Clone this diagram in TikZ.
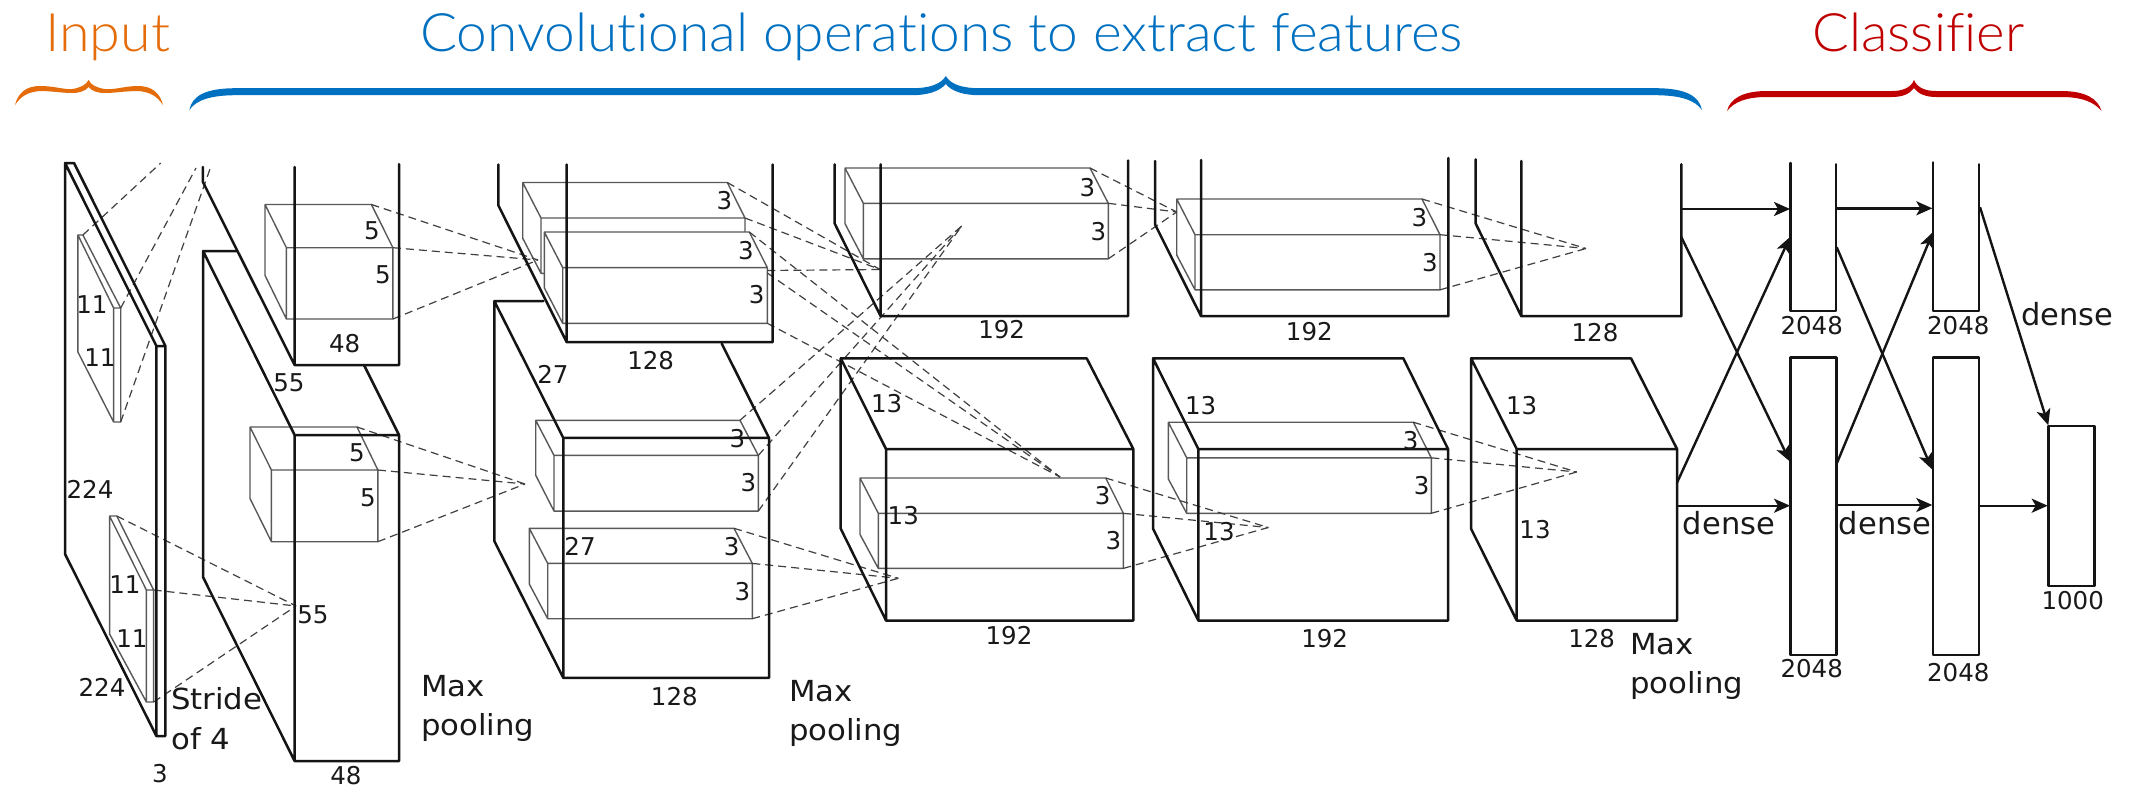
\documentclass[tikz,border=0pt]{standalone}
\usepackage{fontspec}
\setmainfont{DejaVu Sans}
\newfontfamily\headfont[UprightFont=* Light,Ligatures=NoCommon]{Lato}
\usetikzlibrary{arrows.meta}
\definecolor{headorange}{HTML}{E46C0A}
\definecolor{headblue}{HTML}{0070C0}
\definecolor{headred}{HTML}{C00000}
\tikzset{
  layerline/.style={line width=2.5pt,black!92,line cap=round,line join=round},
  thinbox/.style={line width=1.4pt,black!65,line join=round},
  dashline/.style={line width=1.2pt,black!75,dash pattern=on 8pt off 5pt},
  flowarrow/.style={line width=2.4pt,black!92,-{Stealth[length=16pt,width=14pt,inset=4pt]}},
  numtext/.style={inner sep=0pt,font=\fontsize{24.5}{28}\selectfont,text=black!90},
  captext/.style={inner sep=0pt,anchor=north west,align=left,font=\fontsize{29}{39.5}\selectfont,text=black!90,xscale=1.06,transform shape},
  densetext/.style={inner sep=0pt,font=\fontsize{30.5}{36}\selectfont,text=black!90},
  headtext/.style={inner sep=0pt,anchor=base west,font=\headfont\fontsize{53}{60}\selectfont,transform shape},
}
% name, a(back left), b(back right), c(front left), d(front right), ytop, yfront, ybackbottom, ybottom
\newcommand{\innerbox}[9]{%
  \draw[thinbox] (#2,#6) -- (#3,#6) -- (#5,#7) -- (#5,#9) -- (#4,#9) -- (#2,#8) -- cycle
    (#2,#6) -- (#4,#7) -- (#5,#7) (#4,#7) -- (#4,#9);
  \coordinate (#1-a) at (#3,#6);
  \coordinate (#1-b) at (#5,#7);
  \coordinate (#1-c) at (#5,#9);
}
\newcommand{\dashfan}[2]{%
  \draw[dashline] (#1-a) -- (#2);
  \draw[dashline] (#1-b) -- (#2);
  \draw[dashline] (#1-c) -- (#2);
}
\begin{document}
\begin{tikzpicture}[x=1pt,y=-1pt]
\path[use as bounding box,fill=white] (0,0) rectangle (2129,788);

% headings
\node[headtext,text=headorange,xscale=1.05] (hinput) at (45,51) {Input};
\node[headtext,text=headblue,xscale=1.038] (hconv) at (420,51) {Convolutional operations to extract features};
\node[headtext,text=headred,xscale=1.03] (hclass) at (1812,51) {Classifier};

% braces
\fill[headorange] (15,105) .. controls (18,93) and (26,86) .. (40,86) .. controls (55,86) and (65,90) .. (72,89) .. controls (80,88) and (86,85) .. (88.6,80)
  .. controls (91,85) and (97,88) .. (105,89) .. controls (115,90) and (125,86) .. (138,86) .. controls (152,86) and (160,93) .. (163,105)
  .. controls (157,96) and (150,92) .. (138,91) .. controls (125,91) and (115,93) .. (105,93) .. controls (97,93) and (92,91) .. (88.6,87)
  .. controls (85,91) and (80,93) .. (72,93) .. controls (62,93) and (52,91) .. (40,91) .. controls (28,92) and (21,96) .. (15,105) -- cycle;
\fill[headblue] (189.4,110) .. controls (192,96) and (205,88.2) .. (236,88.2) -- (912,88.2) .. controls (930,88.2) and (941,84) .. (945.8,76)
  .. controls (950.6,84) and (961,88.2) .. (980,88.2) -- (1655,88.2) .. controls (1686,88.2) and (1699,96) .. (1702,110)
  .. controls (1695,100) and (1680,95.2) .. (1655,95.2) -- (980,95.2) .. controls (965,95.2) and (952,92) .. (945.8,84)
  .. controls (939,92) and (926,95.2) .. (912,95.2) -- (236,95.2) .. controls (211,95.2) and (196,100) .. (189.4,110) -- cycle;
\fill[headred] (1727,111) .. controls (1730,99) and (1742,91) .. (1767,91) -- (1892,91) .. controls (1904,91) and (1911,87) .. (1914,80)
  .. controls (1917,87) and (1924,91) .. (1936,91) -- (2061,91) .. controls (2086,91) and (2098,99) .. (2101.5,111)
  .. controls (2094,102) and (2082,97) .. (2061,97) -- (1936,97) .. controls (1926,97) and (1918,94) .. (1914,88)
  .. controls (1910,94) and (1902,97) .. (1892,97) -- (1767,97) .. controls (1746,97) and (1734,102) .. (1727,111) -- cycle;

% inner boxes
\innerbox{ia}{77.9}{82.9}{113.6}{120.7}{235}{308}{352}{422}
\innerbox{ib}{109.6}{116.8}{146.4}{153.6}{516}{590}{634}{702}
\innerbox{ba}{265}{371.4}{286.4}{392.9}{204.5}{247.7}{275.4}{319}
\innerbox{bb}{250}{357}{271.4}{377.9}{427}{470}{498.5}{541.7}
\innerbox{ca}{522.7}{727.3}{541}{745}{182.5}{218}{238.2}{273.3}
\fill[white] (544.3,232) -- (749.3,232) -- (767.3,267.6) -- (767.3,323.3) -- (562.7,323.3) -- (544.3,287.8) -- cycle;
\innerbox{cb}{544.3}{749.3}{562.7}{767.3}{232}{267.6}{287.8}{323.3}
\innerbox{cc}{535.7}{740}{554}{758.3}{420.3}{455.4}{475.2}{511.1}
\innerbox{cd}{529.3}{734}{547.7}{752.3}{528.3}{563.4}{584}{618.7}
\innerbox{da}{845}{1090}{863.3}{1108.3}{168}{203.3}{223.6}{258.8}
\innerbox{db}{860}{1105.7}{878.3}{1123.3}{478}{513.3}{534.4}{568.4}
\innerbox{ea}{1176.7}{1422}{1195}{1440}{199}{234.7}{255}{289.8}
\innerbox{eb}{1168.3}{1413.3}{1186.7}{1431.3}{422.2}{457.8}{478.9}{513.3}

% convergence points of the dashed fans
\coordinate (t-ia1) at (160.7,163);
\coordinate (t-ia2) at (196,168);
\coordinate (t-ia3) at (210.7,167);
\coordinate (t-ib) at (296,606);
\coordinate (t-ba) at (538,260);
\coordinate (t-bb) at (525,484);
\coordinate (t-up) at (880,269.5);
\coordinate (t-down) at (1060,477);
\coordinate (t-cc) at (961.7,226);
\coordinate (t-cd) at (898.3,578.3);
\coordinate (t-da) at (1176.7,212);
\coordinate (t-db) at (1268.3,527.5);
\coordinate (t-ea) at (1586,248.5);
\coordinate (t-eb) at (1576.7,472);
\coordinate (s-ca3) at (767.3,270.5);
\coordinate (s-cb1) at (749.3,232);
\coordinate (s-cb2) at (767.3,273);

% dashed lines
\draw[dashline] (ia-a) -- (t-ia1);
\draw[dashline] (ia-b) -- (t-ia2);
\draw[dashline] (ia-c) -- (t-ia3);
\dashfan{ib}{t-ib}
\dashfan{ba}{t-ba}
\dashfan{bb}{t-bb}
\draw[dashline] (ca-a) -- (t-up);
\draw[dashline] (ca-b) -- (t-up);
\draw[dashline] (s-ca3) -- (t-up);
\draw[dashline] (s-cb1) -- (t-down);
\draw[dashline] (s-cb2) -- (t-down);
\draw[dashline] (cb-c) -- (t-down);
\dashfan{cc}{t-cc}
\dashfan{cd}{t-cd}
\dashfan{da}{t-da}
\dashfan{db}{t-db}
\dashfan{ea}{t-ea}
\dashfan{eb}{t-eb}

% input slab
\draw[layerline] (65,163) -- (65,554) -- (156.4,736) -- (165.4,736) -- (165.4,346) -- (74,163) -- cycle
  (65,163) -- (156.4,346) -- (165.4,346) (156.4,346) -- (156.4,736);

% layer 2
\draw[layerline] (202.9,167) -- (202.9,182) -- (294.6,365) -- (399,365) -- (399,164) (294.6,167) -- (294.6,365);
\draw[layerline] (237.5,251) -- (203,251) -- (203,577) -- (294.6,761) -- (399,761) -- (399,435) -- (364,365)
  (203,251) -- (294.6,435) -- (399,435) (294.6,435) -- (294.6,761);
% layer 3
\draw[layerline] (498.3,164.5) -- (498.3,205.3) -- (566.7,342.2) -- (772.7,342.2) -- (772.7,164.5) (566.7,164.5) -- (566.7,342.2);
\draw[layerline] (543.3,301) -- (494.3,301) -- (494.3,541) -- (563.3,677.9) -- (769,677.9) -- (769,437.9) -- (721.7,343.5)
  (494.3,301) -- (563.3,437.9) -- (769,437.9) (563.3,437.9) -- (563.3,677.9);
% layer 4
\draw[layerline] (834.7,164.3) -- (834.7,223.6) -- (880.7,316.2) -- (1128,316.2) -- (1128,160.5) (880.7,164.3) -- (880.7,316.2);
\draw[layerline] (1086.7,358.3) -- (840.7,358.3) -- (840.7,528.6) -- (886,620.5) -- (1133.3,620.5) -- (1133.3,449) -- (1086.7,358.3)
  (840.7,358.3) -- (886,449) -- (1133.3,449) (886,449) -- (886,620.5);
% layer 5
\draw[layerline] (1155,161) -- (1155,224.4) -- (1201,316.2) -- (1448.3,316.2) -- (1448.3,158) (1201,160) -- (1201,316.2);
\draw[layerline] (1403.3,358.3) -- (1153,358.3) -- (1153,528.6) -- (1198.3,620.5) -- (1448,620.5) -- (1448,449) -- (1403.3,358.3)
  (1153,358.3) -- (1198.3,449) -- (1448,449) (1198.3,449) -- (1198.3,620.5);
% layer 6
\draw[layerline] (1475.7,159.3) -- (1475.7,223.6) -- (1521.3,316.2) -- (1681.3,316.2) -- (1681.3,164.3) (1521.3,161) -- (1521.3,316.2);
\draw[layerline] (1631,358.3) -- (1471,358.3) -- (1471,528.6) -- (1516.7,620.5) -- (1677,620.5) -- (1677,449) -- (1631,358.3)
  (1471,358.3) -- (1516.7,449) -- (1677,449) (1516.7,449) -- (1516.7,620.5);
% dense columns
\draw[layerline] (1790.7,163) -- (1790.7,311.2) -- (1836,311.2) -- (1836,164.3);
\draw[layerline] (1790.7,357.6) rectangle (1836.7,655);
\draw[layerline] (1933,162.4) -- (1933,311.2) -- (1979,311.2) -- (1979,164.3);
\draw[layerline] (1933,357.6) rectangle (1979,655);
\draw[layerline] (2048.7,426) rectangle (2094.3,586);

% arrows
\coordinate (a1s) at (1681.3,209);   \coordinate (a1e) at (1790,209);
\coordinate (a2s) at (1681.3,237);   \coordinate (a2e) at (1790,461.6);
\coordinate (a3s) at (1677,482.7);   \coordinate (a3e) at (1790,237);
\coordinate (a4s) at (1677,505.7);   \coordinate (a4e) at (1790,505.7);
\coordinate (a5s) at (1836.7,208.3); \coordinate (a5e) at (1932.3,208.3);
\coordinate (a6s) at (1836.7,247.3); \coordinate (a6e) at (1932,469.3);
\coordinate (a7s) at (1836.7,463.6); \coordinate (a7e) at (1933,232);
\coordinate (a8s) at (1836.7,505);   \coordinate (a8e) at (1932.3,505);
\coordinate (a9s) at (1980,207.2);   \coordinate (a9e) at (2048.3,425.3);
\coordinate (a10s) at (1980,505.7);  \coordinate (a10e) at (2047.7,505.7);
\foreach \i in {1,...,10} {\draw[flowarrow] (a\i s) -- (a\i e);}

% labels
\node[numtext] (n11a) at (92,305) {11};
\node[numtext] (n11b) at (100,358) {11};
\node[numtext] (n224a) at (90,489) {224};
\node[numtext] (n11c) at (125,585) {11};
\node[numtext] (n11d) at (132,639) {11};
\node[numtext] (n224b) at (102,687) {224};
\node[numtext] (n3in) at (160,774) {3};
\node[numtext] (n48a) at (344.6,344) {48};
\node[numtext] (n55a) at (289,383) {55};
\node[numtext] (n5a) at (372,231) {5};
\node[numtext] (n5b) at (383,275) {5};
\node[numtext] (n5c) at (357,453) {5};
\node[numtext] (n5d) at (368,497.5) {5};
\node[numtext] (n55b) at (313,614.6) {55};
\node[numtext] (n48b) at (346,776) {48};
\node[numtext] (n3a) at (724.3,201) {3};
\node[numtext] (n3b) at (746,250.5) {3};
\node[numtext] (n3c) at (756.7,295) {3};
\node[numtext] (n128a) at (650.7,360.6) {128};
\node[numtext] (n27a) at (553,374) {27};
\node[numtext] (n3d) at (737.3,438.7) {3};
\node[numtext] (n3e) at (748.3,483) {3};
\node[numtext] (n27b) at (580,546.7) {27};
\node[numtext] (n3f) at (731.7,546.7) {3};
\node[numtext] (n3g) at (742.3,591.4) {3};
\node[numtext] (n128b) at (674.3,696.8) {128};
\node[numtext] (n3h) at (1087.3,187.3) {3};
\node[numtext] (n3i) at (1098.3,231.3) {3};
\node[numtext] (n192a) at (1001.7,329.6) {192};
\node[numtext] (n13a) at (886.7,404) {13};
\node[numtext] (n13b) at (903.3,516) {13};
\node[numtext] (n3j) at (1102.7,496) {3};
\node[numtext] (n3k) at (1113.3,540.9) {3};
\node[numtext] (n192b) at (1009,635.8) {192};
\node[numtext] (n3l) at (1419.3,217.9) {3};
\node[numtext] (n3m) at (1430,262.6) {3};
\node[numtext] (n192c) at (1309.3,331.5) {192};
\node[numtext] (n13c) at (1200.7,406) {13};
\node[numtext] (n3n) at (1410.7,440.6) {3};
\node[numtext] (n3o) at (1421.7,485.8) {3};
\node[numtext] (n13d) at (1219,531.7) {13};
\node[numtext] (n192d) at (1324.7,638.8) {192};
\node[numtext] (n128c) at (1595,332.3) {128};
\node[numtext] (n13e) at (1521.7,406) {13};
\node[numtext] (n13f) at (1535,529.8) {13};
\node[numtext] (n128d) at (1591.7,638.8) {128};
\node[numtext] (n2048a) at (1811.7,325.8) {2048};
\node[numtext] (n2048b) at (1958.3,325.8) {2048};
\node[numtext] (n2048c) at (1811.7,669) {2048};
\node[numtext] (n2048d) at (1958.3,672.9) {2048};
\node[numtext] (n1000) at (2072.7,600.2) {1000};
\node[densetext] (d1) at (1729,523.6) {dense};
\node[densetext] (d2) at (1885,523.6) {dense};
\node[densetext] (d3) at (2067.3,314.3) {dense};
\node[captext] (stride) at (171,687.5) {Stride\\of 4};
\node[captext] (mp1) at (421,675) {Max\\pooling};
\node[captext] (mp2) at (789,680) {Max\\pooling};
\node[captext] (mp3) at (1630,633) {Max\\pooling};
\end{tikzpicture}
\end{document}
